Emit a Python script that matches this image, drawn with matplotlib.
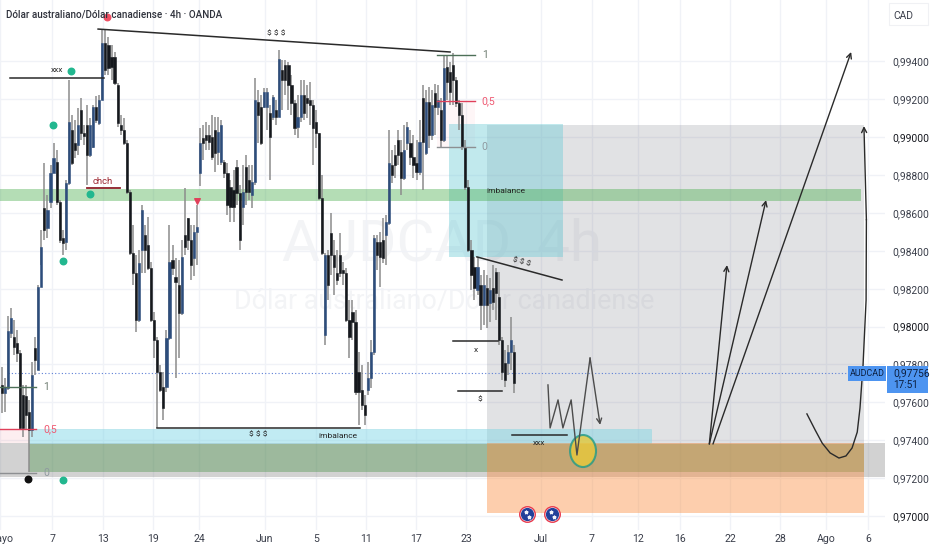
import matplotlib
matplotlib.use("Agg")
from matplotlib import pyplot as plt
from matplotlib.patches import Rectangle, Ellipse

plt.rcParams['font.family'] = ['Roboto', 'DejaVu Sans']

W, H = 932, 550

# candles, price in points of 0.00001
opens = [97692, 97650, 97676, 97966, 97945, 97913, 97861, 97639, 97634, 97549,
         97454, 97887, 97771, 98209, 98626, 98521, 98658, 98811, 98869, 98658,
         98468, 98447, 98758, 99038, 98969, 98959, 99144, 99022, 99064, 98906,
         98948, 99160, 99075, 99196, 99497, 99487, 99424, 99424, 99276, 99064,
         99038, 98969, 98711, 98389, 98283, 98035, 98404, 98484, 98431, 98310,
         98035, 97929, 97760, 97681, 97681, 97940, 98352, 98262, 98220, 98072,
         98484, 98573, 98457, 98362, 98500, 98811, 98996, 99012, 99012, 99001,
         99038, 98922, 98869, 98869, 98811, 98737, 98721, 98843, 98705, 98632,
         98843, 98774, 98695, 98764, 99186, 99160, 99160, 99160, 99128, 99107,
         99144, 99107, 99355, 99381, 99381, 99276, 99181, 99054, 99107, 99223,
         99207, 99196, 99170, 99080, 99022, 98679, 97956, 98378, 98494, 98378,
         98283, 98378, 98299, 98283, 98035, 98077, 98024, 97760, 97665, 97586,
         97665, 97729, 97866, 98447, 98447, 98457, 98484, 98547, 98853, 98906,
         98985, 98922, 98785, 98969, 98969, 98896, 98864, 98816, 99207, 98917,
         99186, 99012, 99233, 99160, 99144, 98985, 99371, 99344, 99381, 99302,
         99181, 99117, 98948, 98737, 98404, 98315, 98193, 98220, 98114, 98204,
         98125, 98204, 98288, 98156, 97929, 97808, 97808, 97866, 97866]
closes = [97650, 97681, 97977, 98045, 97892, 97861, 97465, 97465, 97533, 97454,
          97745, 97824, 98209, 98420, 98510, 98616, 98811, 98890, 98658, 98457,
          98441, 98758, 99080, 98864, 98932, 99064, 99022, 99006, 98906, 99064,
          99160, 99091, 99196, 99497, 99355, 99365, 99371, 99286, 99075, 99038,
          98969, 98711, 98389, 98283, 98035, 98336, 98616, 98404, 98310, 98035,
          97929, 97760, 97665, 97570, 97940, 98341, 98310, 98236, 98072, 98368,
          98420, 98457, 98325, 98500, 98526, 98969, 98969, 98985, 98975, 98896,
          98917, 99028, 99064, 98811, 98642, 98632, 98632, 98705, 98457, 98711,
          98711, 98711, 98764, 99196, 99117, 98969, 99239, 99239, 99001, 99212,
          99107, 99413, 99302, 99302, 99276, 99181, 99049, 99107, 99223, 99128,
          99181, 99170, 99049, 99022, 98679, 98389, 98378, 98220, 98378, 98315,
          98246, 98283, 98283, 98035, 97945, 98024, 97655, 97655, 97586, 97533,
          97729, 97866, 98468, 98378, 98368, 98362, 98552, 98864, 98800, 98853,
          98906, 98785, 98932, 99054, 98896, 98853, 98816, 98975, 98975, 99186,
          99012, 99170, 99160, 99196, 98985, 99365, 99292, 99239, 99302, 99181,
          99117, 98948, 98737, 98404, 98273, 98204, 98315, 98114, 98220, 98114,
          98193, 98130, 98177, 97929, 97760, 97718, 97866, 97929, 97702]
highs = [97787, 97729, 98056, 98098, 98035, 97982, 97877, 97692, 97692, 97613,
         97813, 97945, 98220, 98510, 98864, 98695, 98853, 98969, 98932, 98668,
         98510, 98774, 99302, 99117, 99091, 99154, 99207, 99064, 99170, 99101,
         99170, 99218, 99223, 99566, 99571, 99529, 99487, 99450, 99286, 99117,
         99101, 98985, 98721, 98536, 98378, 98404, 98642, 98536, 98579, 98341,
         98077, 97945, 97797, 97760, 97982, 98536, 98431, 98362, 98352, 98457,
         98732, 98573, 98536, 98536, 98642, 99049, 99064, 99080, 99064, 99117,
         99107, 99107, 99091, 98880, 98864, 98774, 98827, 98880, 98748, 98853,
         98906, 98853, 98853, 99313, 99249, 99223, 99260, 99260, 99170, 99223,
         99196, 99460, 99408, 99408, 99397, 99329, 99196, 99223, 99302, 99302,
         99276, 99292, 99196, 99144, 99022, 98800, 98389, 98404, 98600, 98457,
         98404, 98494, 98341, 98310, 98140, 98140, 98088, 97866, 97797, 97639,
         97813, 97929, 98484, 98484, 98500, 98573, 98589, 99038, 98932, 98959,
         99038, 98985, 99064, 99080, 99038, 99012, 98985, 99091, 99276, 99249,
         99265, 99249, 99281, 99276, 99207, 99434, 99434, 99397, 99445, 99318,
         99196, 99181, 98985, 98774, 98457, 98368, 98368, 98273, 98299, 98273,
         98257, 98325, 98310, 98288, 97945, 97876, 97903, 98051, 97903]
lows = [97544, 97549, 97665, 97940, 97850, 97813, 97454, 97417, 97454, 97232,
        97417, 97745, 97771, 98325, 98457, 98468, 98626, 98816, 98642, 98441,
        98378, 98404, 98748, 98853, 98890, 98906, 98985, 98959, 98748, 98896,
        98943, 99075, 99064, 99196, 99328, 99328, 99302, 99276, 99054, 99012,
        98959, 98700, 98378, 98220, 97971, 98024, 98283, 98283, 98299, 98024,
        97834, 97465, 97655, 97507, 97655, 97929, 98273, 97729, 97834, 98061,
        98378, 98404, 98246, 98267, 98325, 98742, 98880, 98932, 98932, 98880,
        98816, 98853, 98853, 98785, 98589, 98552, 98552, 98642, 98404, 98536,
        98642, 98668, 98626, 98748, 98969, 98959, 99154, 99038, 98774, 99091,
        99064, 99107, 99144, 99223, 99144, 99117, 99012, 98996, 99080, 99091,
        99101, 99064, 98853, 98943, 98668, 98378, 97903, 98140, 98273, 98167,
        98220, 98262, 98220, 98024, 97834, 97929, 97639, 97481, 97560, 97481,
        97639, 97676, 97850, 98299, 98209, 98336, 98325, 98536, 98758, 98785,
        98853, 98695, 98774, 98932, 98853, 98785, 98774, 98800, 98721, 98906,
        98943, 98985, 99012, 99117, 98943, 98975, 99196, 99170, 99170, 99160,
        99038, 98932, 98721, 98394, 98193, 98140, 98167, 97982, 98008, 97993,
        98024, 98088, 98035, 97903, 97718, 97681, 97745, 97771, 97650]

price_ticks = [97000, 97200, 97400, 97600, 97800, 98000, 98200, 98400, 98600, 98800,
               99000, 99200, 99400]
date_pos = [-0.5, 16.5, 33.2, 49.6, 64.7, 86.3, 103, 119.4, 135.8, 152.2, 176.8,
            193.5, 208.6, 222.4, 238.8, 255.2, 270.3, 284]
date_labels = ["Mayo", "7", "13", "19", "24", "Jun", "5", "11", "17", "23", "Jul",
               "7", "12", "16", "22", "28", "Ago", "6"]

last_price = 97756

# drawn lines, as (bar, price points)
trend_top = ([31.6, 147], [99571, 99450])
trend_low = ([155.8, 183.7], [98368, 98246])
zig_x = [179.1, 179.8, 182.4, 184, 186.7, 188.6, 192.9, 196.2]
zig_y = [97692, 97465, 97613, 97465, 97613, 97322, 97834, 97481]
curve_x = [264, 266.7, 269, 271.6, 274.5, 276.8, 278.8, 280.5, 281.4, 282.4, 283.4, 283.5, 282.7]
curve_y = [97539, 97454, 97385, 97333, 97306, 97317, 97359, 97443, 97570, 97797, 98140, 98563, 99059]
level_lines = [(2.7, 33.5, 99315), (50.9, 117.5, 97465), (148, 162.7, 97924),
               (149.6, 164, 97660), (167.3, 185.3, 97430)]
teal_dots_x = [22.7, 16.8, 29, 20.1, 20.1]
teal_dots_y = [99350, 99064, 98700, 98346, 97190]


def pr(v):
    return v / 100000


fig = plt.figure(figsize=(W / 100, H / 100), dpi=100)
ax = fig.add_axes([0, 20 / H, 885 / W, 530 / H])
ax.set_xlim(-0.557, 289.6)
ax.set_ylim(pr(96926), pr(99724.5))

for s in ax.spines.values():
    s.set_visible(False)
ax.yaxis.tick_right()
ax.set_yticks([pr(v) for v in price_ticks])
ax.set_yticklabels([f"{pr(v):.5f}".replace(".", ",") for v in price_ticks], fontsize=7.4, color="#3a3e4a")
ax.set_xticks(date_pos)
ax.set_xticklabels(date_labels, fontsize=7.6, color="#3a3e4a")
ax.tick_params(axis="y", length=0, pad=5.5)
ax.tick_params(axis="x", length=0, pad=3)
ax.grid(True, color="#f0f2f7", lw=1)
ax.set_axisbelow(True)
for lab in ax.get_yticklabels():
    if lab.get_text() in ("0,99000", "0,98000", "0,97000"):
        lab.set_color("#16181f")

# watermark
ax.text(0.499, 1 - 245 / 530, "AUDCAD, 4h", transform=ax.transAxes, fontsize=42, color="#f3f4f6",
        ha="center", va="center", zorder=0.5)
ax.text(0.502, 1 - 301 / 530, "Dólar australiano/Dólar canadiense", transform=ax.transAxes, fontsize=19.3,
        color="#f3f4f6", ha="center", va="center", zorder=0.5)


def box(x0, x1, p0, p1, color, alpha, z=1.5, edge="none"):
    ax.add_patch(Rectangle((x0, pr(p0)), x1 - x0, pr(p1 - p0), facecolor=color, alpha=alpha,
                           edgecolor=edge, lw=0.6, zorder=z))


# zones
box(159.1, 282.7, 97385, 99064, "#787b86", 0.22, 1.1)
box(-1, 289.9, 97206, 97385, "#808080", 0.35, 1.2)
box(8.95, 212.9, 97385, 97459, "#7ed6e6", 0.48, 1.3, "#8fd6e0")
box(8.95, 282.7, 97232, 97380, "#3f8f3f", 0.36, 1.4)
box(159.1, 282.7, 97016, 97385, "#fb8c3c", 0.42, 1.5)
box(146.7, 184, 98368, 99070, "#6ccbd6", 0.42, 1.6)
box(-1, 281.7, 98661, 98724, "#4caf50", 0.42, 1.7)
box(-1, 8.95, 97385, 97459, "#f06070", 0.1, 1.1)
box(142.7, 155.2, 98948, 99191, "#f06070", 0.05, 1.1)

ax.axhline(pr(last_price), color="#5c7fd6", lw=0.8, ls=(0, (1, 2)), xmin=0.009, zorder=1.9)

# candles
bars = list(range(len(opens)))
ax.vlines(bars, [pr(v) for v in lows], [pr(v) for v in highs], color="#8c8c8c", lw=1.1, zorder=3)
for i in bars:
    up = closes[i] > opens[i]
    col = "#2d4d7c" if up else "#15181d"
    lo = min(opens[i], closes[i])
    ax.bar(i, pr(abs(closes[i] - opens[i])), bottom=pr(lo), width=0.72, color=col, edgecolor=col, lw=0.4, zorder=3.2)

line_kw = dict(color="#2a2a2a", lw=1.1, zorder=4)
ax.plot(trend_top[0], [pr(v) for v in trend_top[1]], **line_kw)
ax.plot(trend_low[0], [pr(v) for v in trend_low[1]], **line_kw)
for x0, x1, p in level_lines:
    ax.plot([x0, x1], [pr(p), pr(p)], **line_kw)
ax.plot([28, 38.8], [pr(98732), pr(98732)], color="#8e1f28", lw=1.3, zorder=4)

# fib levels
for x0, x1, levels, tx in [(-1, 11.2, (97681, 97459, 97227), 13.6), (142.7, 155.2, (99434, 99191, 98948), 157.4)]:
    ax.plot([x0, x1], [pr(levels[0])] * 2, color="#4d7058", lw=1, zorder=4)
    ax.plot([x0, x1], [pr(levels[1])] * 2, color="#e0405a", lw=1, zorder=4)
    ax.plot([x0, x1], [pr(levels[2])] * 2, color="#8d8f92", lw=1, zorder=4)
    ax.text(tx, pr(levels[0]), "1", fontsize=7.6, color="#6f7d72", va="center", zorder=5)
    ax.text(tx, pr(levels[1]), "0,5", fontsize=7.6, color="#ef5a72", va="center", zorder=5)
    ax.text(tx, pr(levels[2]), "0", fontsize=7.6, color="#8f9aa0", va="center", zorder=5)

# highlighted spot
ax.add_patch(Ellipse((190.6, pr(97343)), 8.5, pr(169), facecolor="#e8c93a", alpha=0.8, edgecolor="#1e9a8a",
                     lw=1.5, zorder=4.2))

# projected path
ax.plot(zig_x[:-1], [pr(v) for v in zig_y[:-1]], color="#4c4c4c", lw=1, zorder=4.5)
arrow = dict(arrowstyle="->", color="#2a2a2a", lw=1, mutation_scale=9, shrinkA=0, shrinkB=0)
ax.annotate("", xy=(zig_x[-1], pr(zig_y[-1])), xytext=(zig_x[-2], pr(zig_y[-2])),
            arrowprops=dict(arrow, color="#4c4c4c"), zorder=4.5)
ax.annotate("", xy=(237.8, pr(98325)), xytext=(232, pr(97380)), arrowprops=arrow, zorder=4.5)
ax.annotate("", xy=(250.6, pr(98668)), xytext=(232, pr(97380)), arrowprops=arrow, zorder=4.5)
ax.annotate("", xy=(278.5, pr(99450)), xytext=(233.2, pr(97380)), arrowprops=arrow, zorder=4.5)
ax.plot(curve_x[:-1], [pr(v) for v in curve_y[:-1]], color="#2a2a2a", lw=1, zorder=4.5)
ax.annotate("", xy=(curve_x[-1], pr(curve_y[-1])), xytext=(curve_x[-2], pr(curve_y[-2])),
            arrowprops=arrow, zorder=4.5)

# small markers
ax.scatter(teal_dots_x, [pr(v) for v in teal_dots_y], s=22, color="#22b78f", zorder=5)
ax.scatter([34.5], [pr(99635)], s=22, color="#ef4f63", zorder=5)
ax.scatter([8.6], [pr(97195)], s=22, color="#111111", zorder=5)
ax.scatter([64], [pr(98663)], s=16, marker="v", color="#e0405a", zorder=5)

# calendar flags
for fx in (172.2, 180.4):
    ax.scatter([fx], [pr(97011)], s=125, color="white", edgecolor="#e8394d", lw=1, zorder=5)
    ax.scatter([fx], [pr(97011)], s=72, color="#23409a", zorder=5.1)
    ax.scatter([fx - 0.4], [pr(97020)], s=5, color="#f3f4fa", marker="*", zorder=5.2)
    ax.scatter([fx + 0.8], [pr(96995)], s=5, color="#f3f4fa", marker="*", zorder=5.2)

# labels on the chart
note = dict(fontsize=6, color="#222222", ha="center", va="center", zorder=6)
ax.text(90, pr(99550), "$ $ $", **note)
ax.text(18.1, pr(99355), "xxx", **note)
ax.text(84, pr(97433), "$ $ $", **note)
ax.text(165.4, pr(98716), "imbalance", **note)
ax.text(110.3, pr(97422), "imbalance", **note)
ax.text(155.5, pr(97876), "x", **note)
ax.text(156.8, pr(97618), "$", **note)
ax.text(176.2, pr(97385), "xxx", **note)
ax.text(170.6, pr(98341), "$ $ $", rotation=-15, **note)
ax.text(33.2, pr(98764), "chch", fontsize=6.8, color="#9c2530", ha="center", va="center", zorder=6)


def fig_box(x0, y0, x1, y1, color, edge="none"):
    fig.add_artist(Rectangle((x0 / W, 1 - y1 / H), (x1 - x0) / W, (y1 - y0) / H, transform=fig.transFigure,
                             facecolor=color, edgecolor=edge, lw=0.8, zorder=8))


# header and price tags
fig.text(6 / W, 1 - 15 / H, "Dólar australiano/Dólar canadiense · 4h · OANDA", fontsize=7.1, color="#2f323c",
         fontweight="medium", va="center", zorder=9)
fig_box(889, 3, 928, 25, "white", "#f0f1f4")
fig.text(903 / W, 1 - 16 / H, "CAD", fontsize=7.4, color="#3a3e4a", ha="center", va="center", zorder=9)
fig_box(848, 366, 886, 381, "#4d94f0")
fig.text(867 / W, 1 - 374 / H, "AUDCAD", fontsize=6.4, color="#0c1f3f", ha="center", va="center", zorder=9)
fig_box(887, 366, 928, 393, "#4d94f0")
fig.text(893 / W, 1 - 373 / H, "0,97756", fontsize=7.4, color="#0c1f3f", va="center", zorder=9)
fig.text(893 / W, 1 - 385 / H, "17:51", fontsize=7.2, color="#0c1f3f", va="center", zorder=9)

fig.savefig("out.png", dpi=100)
